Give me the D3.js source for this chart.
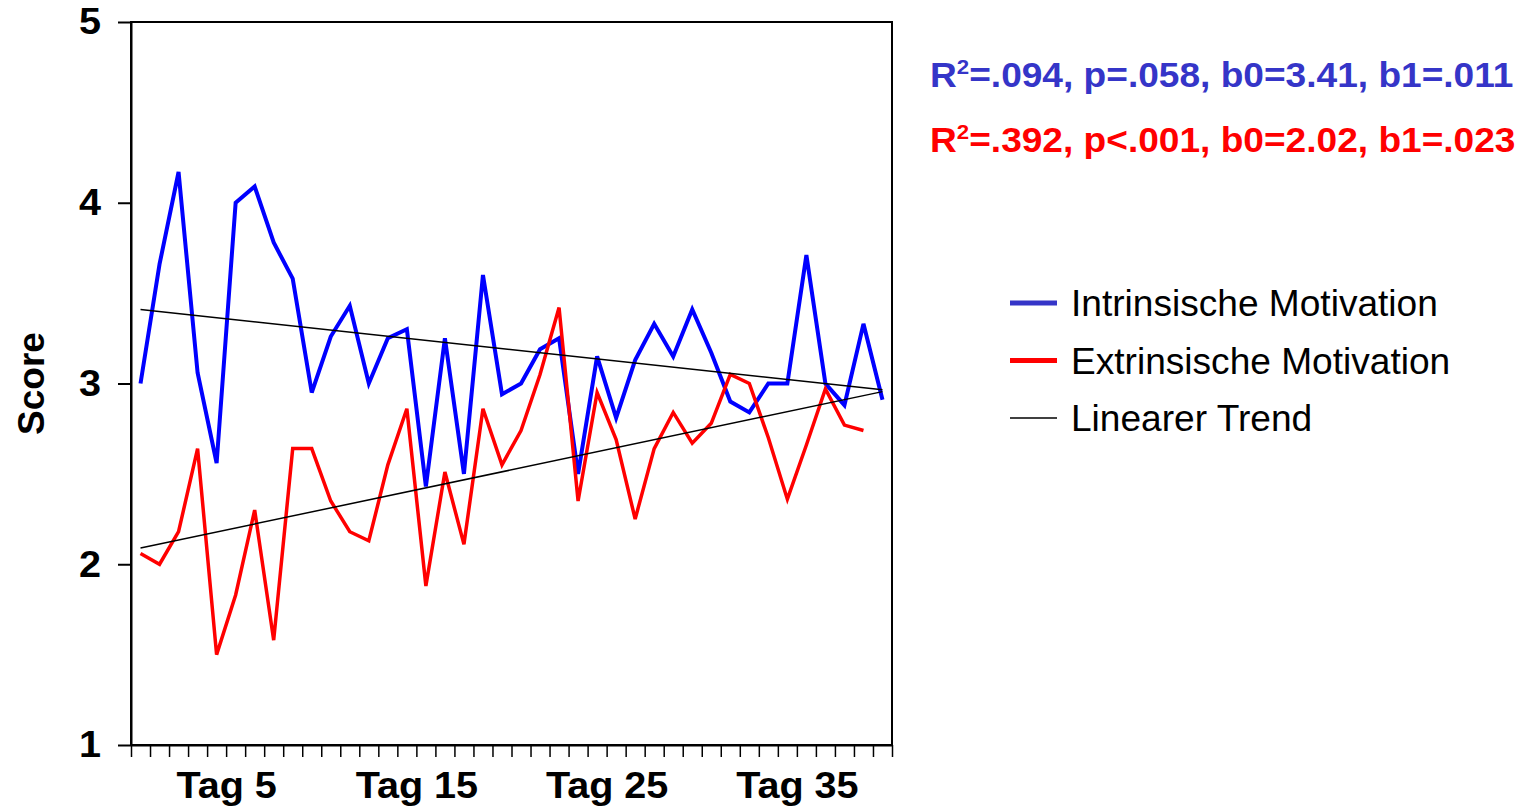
<!DOCTYPE html>
<html>
<head>
<meta charset="utf-8">
<script src="https://cdn.jsdelivr.net/npm/d3@7"></script>
<style>
  body { margin: 0; background: #fff; }
  svg { font-family: "Liberation Sans", Arial, Helvetica, sans-serif; }
</style>
</head>
<body>
<div id="chart"></div>
<script>
// days on the x axis and which ones get a label
var days = d3.range(1, 41);
var labelDays = [5, 15, 25, 35];
var yTicks = [1, 2, 3, 4, 5];

// daily scores
var intrinsic = [3.00, 3.66, 4.17, 3.06, 2.56, 4.00, 4.09, 3.78, 3.58, 2.95,
                 3.26, 3.43, 3.00, 3.25, 3.30, 2.43, 3.25, 2.50, 3.60, 2.94,
                 3.00, 3.19, 3.25, 2.50, 3.15, 2.81, 3.13, 3.33, 3.15, 3.41,
                 3.17, 2.90, 2.84, 3.00, 3.00, 3.71, 3.00, 2.88, 3.33, 2.91];
var extrinsic = [2.06, 2.00, 2.18, 2.64, 1.50, 1.83, 2.30, 1.58, 2.64, 2.64,
                 2.35, 2.18, 2.13, 2.55, 2.86, 1.88, 2.51, 2.11, 2.86, 2.55,
                 2.74, 3.05, 3.42, 2.35, 2.95, 2.69, 2.25, 2.64, 2.84, 2.67,
                 2.78, 3.05, 3.00, 2.70, 2.36, 2.66, 2.97, 2.77, 2.74, null];

// linear trend end points (day 1 and day 40)
var trendDays = [1, 40];
var trendIntrinsic = [3.41, 2.965];
var trendExtrinsic = [2.09, 2.955];

var statLines = [
  {rest: "=.094, p=.058, b0=3.41, b1=.011", color: "#3535c8"},
  {rest: "=.392, p<.001, b0=2.02, b1=.023", color: "#ff0000"}
];
var legendItems = [
  {name: "Intrinsische Motivation", color: "#3535c8", width: 5},
  {name: "Extrinsische Motivation", color: "#ff0000", width: 5},
  {name: "Linearer Trend", color: "#000", width: 1.5}
];

var width = 1530, height = 806;
var margin = {top: 22, right: 638, bottom: 61, left: 131};

// the original text is a bit wider than Liberation Sans
function stretch(sel, factor) {
  sel.each(function() {
    var w = this.getComputedTextLength();
    d3.select(this)
      .attr("textLength", w * factor)
      .attr("lengthAdjust", "spacingAndGlyphs");
  });
}

var svg = d3.select("#chart").append("svg")
    .attr("width", width)
    .attr("height", height);

var x = d3.scaleLinear()
    .domain([0.5, days.length + 0.5])
    .range([margin.left, width - margin.right]);

var y = d3.scaleLinear()
    .domain([1, 5])
    .range([height - margin.bottom, margin.top]);

// plot frame
svg.append("rect")
   .attr("x", x.range()[0])
   .attr("y", y(5))
   .attr("width", x.range()[1] - x.range()[0])
   .attr("height", y(1) - y(5))
   .style("fill", "none")
   .style("stroke", "#000")
   .style("stroke-width", 2);

// y axis
var yAxis = svg.append("g")
    .attr("transform", "translate(" + x.range()[0] + ",0)")
    .call(d3.axisLeft(y).tickValues(yTicks).tickSize(13).tickPadding(17)
            .tickFormat(d3.format("d")).tickSizeOuter(0));
yAxis.select(".domain").style("stroke-width", 2);
yAxis.selectAll(".tick line").style("stroke-width", 2);
yAxis.selectAll("text")
     .style("font-size", "37px")
     .style("font-weight", "bold")
     .style("fill", "#000")
     .call(stretch, 1.07);

// x axis: small ticks between the days
var xAxis = svg.append("g")
    .attr("transform", "translate(0," + y(1) + ")")
    .call(d3.axisBottom(x).tickValues(d3.range(0.5, days.length + 1, 1))
            .tickSize(12).tickFormat("").tickSizeOuter(0));
xAxis.select(".domain").style("stroke-width", 2);
xAxis.selectAll(".tick line").style("stroke-width", 1.5);

// x labels sit on the tick after each labelled day
var xLabels = svg.append("g")
    .attr("transform", "translate(0," + y(1) + ")")
    .call(d3.axisBottom(x).tickValues(labelDays.map(function(d) { return d + 0.5; }))
            .tickSize(0).tickFormat(function(d) { return "Tag " + (d - 0.5); }));
xLabels.select(".domain").remove();
xLabels.selectAll("text")
       .attr("y", 53)
       .attr("dy", 0)
       .style("font-size", "37px")
       .style("font-weight", "bold")
       .style("fill", "#000")
       .call(stretch, 1.07);

// y axis title
svg.append("text")
   .attr("transform", "translate(44," + y(3) + ") rotate(-90)")
   .attr("text-anchor", "middle")
   .style("font-size", "37px")
   .style("font-weight", "bold")
   .text("Score");

var line = d3.line()
    .defined(function(d) { return d != null; })
    .x(function(d, i) { return x(days[i]); })
    .y(function(d) { return y(d); });

svg.append("path")
   .datum(intrinsic)
   .attr("d", line)
   .style("fill", "none")
   .style("stroke", "#0000ff")
   .style("stroke-width", 4);

svg.append("path")
   .datum(extrinsic)
   .attr("d", line)
   .style("fill", "none")
   .style("stroke", "#ff0000")
   .style("stroke-width", 3.5);

// trend lines
var trendLine = d3.line()
    .x(function(d, i) { return x(trendDays[i]); })
    .y(function(d) { return y(d); });

[trendIntrinsic, trendExtrinsic].forEach(function(t) {
  svg.append("path")
     .datum(t)
     .attr("d", trendLine)
     .style("fill", "none")
     .style("stroke", "#000")
     .style("stroke-width", 1.5);
});

// regression stats
statLines.forEach(function(s, i) {
  var t = svg.append("text")
     .attr("transform", "translate(930," + (87 + i * 65) + ") scale(1.06,1)")
     .style("font-size", "35px")
     .style("font-weight", "bold")
     .style("fill", s.color);
  t.append("tspan").text("R");
  t.append("tspan").attr("dy", -13).style("font-size", "21px").text("2");
  t.append("tspan").attr("dy", 13).text(s.rest);
});

// legend
var legend = svg.append("g")
    .attr("transform", "translate(1010,303)");
legendItems.forEach(function(item, i) {
  var row = legend.append("g").attr("transform", "translate(0," + (i * 57.5) + ")");
  row.append("line")
     .attr("x1", 0).attr("x2", 47)
     .attr("y1", 0).attr("y2", 0)
     .style("stroke", item.color)
     .style("stroke-width", item.width);
  row.append("text")
     .attr("x", 61)
     .attr("y", 13)
     .style("font-size", "36px")
     .style("fill", "#000")
     .text(item.name)
     .call(stretch, 1.03);
});
</script>
</body>
</html>
